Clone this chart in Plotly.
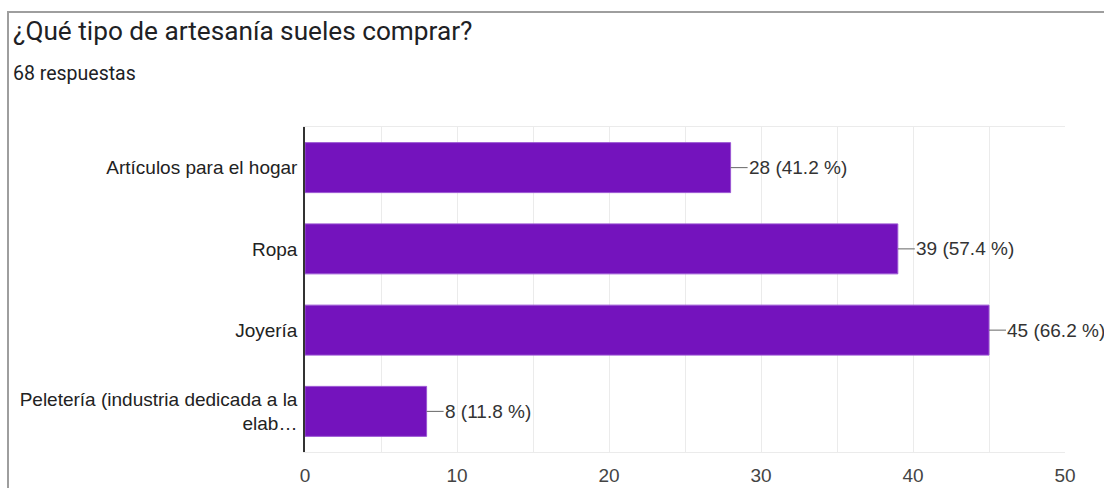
import plotly.graph_objects as go

categories = ["Artículos para el hogar", "Ropa", "Joyería",
              "Peletería (industria dedicada a la<br>elab…"]
counts = [28, 39, 45, 8]
total_responses = 68
x_tick_values = [0, 10, 20, 30, 40, 50]
title_text = "¿Qué tipo de artesanía sueles comprar?"
subtitle_text = f"{total_responses} respuestas"

W, H = 1104, 488
L, R, T, B = 305, 39, 127, 36
pw, ph = W - L - R, H - T - B

def px_x(p):
    return (p - L) / pw

def px_y(p):
    return (H - B - p) / ph

BAR = "#7413bd"
fig = go.Figure(go.Bar(
    x=counts, y=categories, orientation="h",
    marker=dict(color=BAR, line=dict(color="#9a55d3", width=1)),
    hoverinfo="skip",
))

annotations = []
for c, v in zip(categories, counts):
    annotations.append(dict(
        x=v, y=c, xref="x", yref="y",
        text=f"{v} ({v / total_responses * 100:.1f} %)",
        showarrow=True, arrowhead=0, arrowwidth=1, arrowcolor="#666666",
        ax=17, ay=0, xanchor="left", yanchor="middle", standoff=0,
        font=dict(family="Liberation Sans, Arial", size=19, color="#333333"),
        borderpad=0,
    ))

annotations.append(dict(
    x=px_x(11), y=px_y(31), xref="paper", yref="paper", text=title_text,
    showarrow=False, xanchor="left", yanchor="middle",
    font=dict(family="Roboto, Arial", size=26.2, color="#202124"),
))
annotations.append(dict(
    x=px_x(11), y=px_y(74), xref="paper", yref="paper", text=subtitle_text,
    showarrow=False, xanchor="left", yanchor="middle",
    font=dict(family="Roboto, Arial", size=19.5, color="#202124"),
))

fig.update_layout(
    width=W, height=H,
    margin=dict(l=L, r=R, t=T, b=B, autoexpand=False),
    paper_bgcolor="white", plot_bgcolor="white",
    showlegend=False,
    bargap=0.385,
    annotations=annotations,
    shapes=[dict(type="rect", xref="paper", yref="paper",
                 x0=px_x(8), x1=px_x(1300), y0=px_y(700), y1=px_y(12),
                 line=dict(color="#9e9e9e", width=2), layer="above")],
    xaxis=dict(
        range=[0, 50], tickvals=x_tick_values, showgrid=True,
        gridcolor="#ebebeb", gridwidth=1,
        minor=dict(dtick=5, showgrid=True, gridcolor="#ebebeb", gridwidth=1),
        showline=True, linecolor="#ebebeb", linewidth=1, mirror=True,
        zeroline=False, ticks="", ticklabelstandoff=6,
        tickfont=dict(family="Liberation Sans, Arial", size=19, color="#444444"),
        fixedrange=True,
    ),
    yaxis=dict(
        autorange="reversed", showgrid=False, zeroline=False,
        showline=True, linecolor="#333333", linewidth=1.5,
        ticks="", ticklabelstandoff=2,
        tickfont=dict(family="Liberation Sans, Arial", size=19, color="#222222"),
        fixedrange=True,
    ),
)

fig.write_html("out.html")
